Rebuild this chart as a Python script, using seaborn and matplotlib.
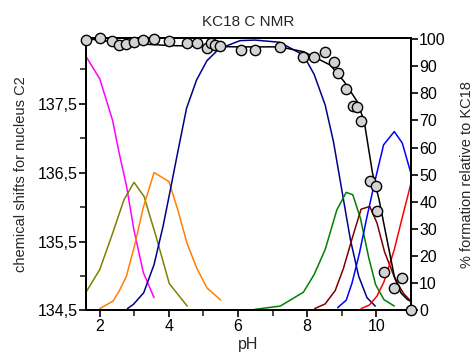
import matplotlib
matplotlib.use("Agg")
import matplotlib.pyplot as plt
import seaborn as sns
import pandas as pd
from matplotlib.ticker import FixedLocator, FuncFormatter

sns.set_style("ticks")
plt.rcParams['font.family'] = ['Liberation Sans', 'DejaVu Sans']

# measured data (circles) as % on right axis
data_ph = [1.59, 2.0, 2.36, 2.56, 2.77, 2.99, 3.26, 3.57, 4.0, 4.51, 4.80, 5.09, 5.22, 5.33,
           5.48, 6.09, 6.49, 7.20, 7.89, 8.21, 8.52, 8.78, 8.88, 9.13, 9.32, 9.44, 9.57,
           9.83, 9.98, 10.03, 10.22, 10.52, 10.75, 11.0]
data_pct = [99.6, 100.5, 99.4, 97.8, 98.0, 98.8, 99.5, 100.0, 99.1, 98.5, 98.4, 96.7, 98.4, 97.8,
            97.6, 96.0, 96.0, 97.1, 93.5, 93.3, 95.3, 91.7, 87.4, 81.6, 75.2, 75.0, 69.7,
            47.8, 46.0, 36.5, 14.3, 8.1, 12.0, 0.2]

fit_ph = [1.59, 2.0, 2.5, 3.0, 4.0, 5.0, 6.0, 7.2, 7.9, 8.67, 9.07, 9.45, 9.65, 9.89,
          10.08, 10.27, 10.52, 10.71, 10.90, 11.0]
fit_pct = [100.2, 99.5, 98.8, 98.3, 97.6, 97.3, 97.1, 97.1, 95.3, 90.4, 84.3, 76.9, 69.6, 50.6,
           40.8, 28.6, 12.6, 6.5, 4.0, 3.4]

magenta_ph = [1.59, 2.0, 2.37, 2.56, 2.77, 2.99, 3.26, 3.57]
magenta_pct = [93.8, 85.3, 70.0, 58.0, 46.0, 29.5, 13.9, 4.7]

olive_ph = [1.59, 2.0, 2.34, 2.70, 2.99, 3.28, 3.64, 4.01, 4.53]
olive_pct = [6.5, 15.1, 27.3, 40.8, 47.2, 42.0, 26.7, 9.9, 1.6]

orange_ph = [2.0, 2.38, 2.56, 2.77, 3.0, 3.26, 3.57, 4.0, 4.27, 4.52, 4.8, 5.1, 5.5]
orange_pct = [0.7, 3.4, 7.1, 12.6, 23.6, 38.0, 50.8, 47.5, 36.5, 24.9, 15.7, 8.3, 3.8]

navy_ph = [2.8, 2.97, 3.27, 3.57, 3.83, 4.05, 4.25, 4.51, 4.80, 5.1, 5.45, 6.06, 6.49, 7.2,
           7.89, 8.2, 8.52, 8.76, 9.0, 9.25, 9.49, 9.73, 9.97]
navy_pct = [0.7, 2.2, 6.5, 16.9, 31.0, 45.0, 58.0, 74.5, 84.9, 92.0, 96.4, 99.4, 99.6, 98.8,
            94.1, 87.0, 75.7, 62.2, 44.5, 26.1, 12.6, 4.7, 1.6]

green_ph = [6.49, 7.22, 7.89, 8.2, 8.52, 8.86, 9.13, 9.32, 9.54, 9.78, 9.98, 10.22, 10.52]
green_pct = [0.4, 1.6, 6.7, 13.2, 22.4, 37.1, 43.5, 42.6, 34.0, 19.5, 9.5, 4.0, 1.6]

maroon_ph = [8.22, 8.52, 8.81, 9.05, 9.3, 9.56, 9.81, 10.02, 10.24, 10.55, 10.79, 11.0]
maroon_pct = [0.7, 2.4, 7.3, 15.5, 26.5, 37.3, 38.3, 32.2, 21.5, 11.4, 6.2, 3.4]

blue_ph = [8.88, 9.13, 9.3, 9.51, 9.73, 9.97, 10.21, 10.52, 10.75, 11.0]
blue_pct = [1.0, 3.8, 10.2, 21.0, 34.5, 48.2, 61.0, 65.9, 61.7, 50.6]

red_ph = [9.56, 9.8, 10.02, 10.22, 10.52, 10.76, 11.0]
red_pct = [0.7, 2.0, 5.3, 10.5, 22.4, 34.7, 46.7]

left_ticks = [134.5, 135.5, 136.5, 137.5]
left_minor = [135.0, 136.0, 137.0, 138.0]
x_ticks = [2, 4, 6, 8, 10]
x_minor = [3, 5, 7, 9]
right_ticks = list(range(0, 101, 10))

fig = plt.figure(figsize=(4.75, 3.56), dpi=100)
ax = fig.add_axes([0.181, 0.128, 0.684, 0.764])
ax2 = ax.twinx()

curves = [
    (magenta_ph, magenta_pct, "#ff00ff"),
    (olive_ph, olive_pct, "#808000"),
    (orange_ph, orange_pct, "#ff8000"),
    (navy_ph, navy_pct, "#00008b"),
    (green_ph, green_pct, "#008000"),
    (maroon_ph, maroon_pct, "#800000"),
    (blue_ph, blue_pct, "#0000ff"),
    (red_ph, red_pct, "#ff0000"),
]
for xs, ys, c in curves:
    df = pd.DataFrame({"pH": xs, "pct": ys})
    sns.lineplot(data=df, x="pH", y="pct", ax=ax2, color=c, lw=1.1, sort=False,
                 estimator=None)

dff = pd.DataFrame({"pH": fit_ph, "pct": fit_pct})
sns.lineplot(data=dff, x="pH", y="pct", ax=ax2, color="black", lw=1.1, sort=False,
             estimator=None)
dfd = pd.DataFrame({"pH": data_ph, "pct": data_pct})
sns.scatterplot(data=dfd, x="pH", y="pct", ax=ax2, color="#d3d3d3", edgecolor="black",
                linewidth=1.0, s=55, zorder=5, clip_on=False)

ax.set_xlim(1.6, 11.0)
ax.set_ylim(134.5, 138.45)
ax2.set_ylim(0, 100.2)

ax.xaxis.set_major_locator(FixedLocator(x_ticks))
ax.xaxis.set_minor_locator(FixedLocator(x_minor))
ax.yaxis.set_major_locator(FixedLocator(left_ticks))
ax.yaxis.set_minor_locator(FixedLocator(left_minor))
ax.yaxis.set_major_formatter(FuncFormatter(lambda v, p: f"{v:.1f}".replace(".", ",")))
ax2.yaxis.set_major_locator(FixedLocator(right_ticks))

for a in (ax, ax2):
    for s in a.spines.values():
        s.set_visible(True)
        s.set_linewidth(1.4)
        s.set_color("black")
    a.tick_params(which="major", length=5, width=1.2, labelsize=11.5, colors="black", pad=1)
    a.tick_params(which="minor", length=4, width=1.2)
ax.tick_params(axis="y", which="both", direction="out")

ax2.set_ylabel("% formation relative to KC18", fontsize=10.5, labelpad=10)
ax.set_ylabel("chemical shifts for nucleus C2", fontsize=10.5, labelpad=7)
ax.set_xlabel("pH", fontsize=11.5, labelpad=2)
ax.set_title("KC18 C NMR", fontsize=11, pad=9)

fig.savefig("out.png", dpi=100)
